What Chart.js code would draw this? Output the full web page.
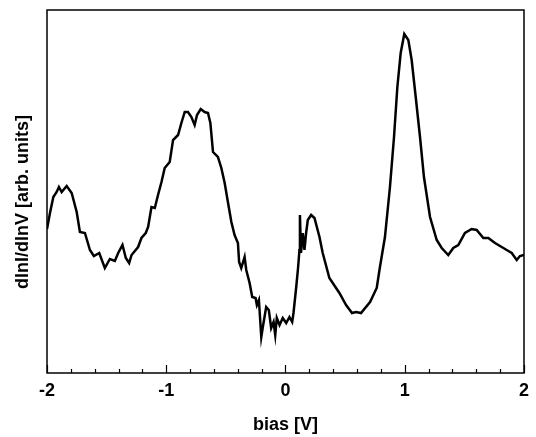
<!DOCTYPE html>
<html>
<head>
<meta charset="utf-8">
<script src="https://cdn.jsdelivr.net/npm/chart.js@4.4.1/dist/chart.umd.min.js"></script>
<style>
  html, body { margin: 0; padding: 0; background: #fff; }
</style>
</head>
<body>
<canvas id="stsChart" width="536" height="437"></canvas>
<script>
// bias [V] and dlnI/dlnV (arb. units)
const bias = [
  -2.000, -1.975, -1.947, -1.919, -1.900, -1.877, -1.835, -1.793, -1.751, -1.724,
  -1.682, -1.640, -1.607, -1.562, -1.515, -1.473, -1.431, -1.403, -1.367, -1.339,
  -1.311, -1.291, -1.236, -1.208, -1.172, -1.152, -1.124, -1.096, -1.069, -1.040,
  -1.013, -0.971, -0.943, -0.901, -0.873, -0.845, -0.818, -0.789, -0.762, -0.742,
  -0.711, -0.678, -0.650, -0.630, -0.608, -0.567, -0.538, -0.510, -0.483, -0.454,
  -0.427, -0.399, -0.389, -0.371, -0.343, -0.329, -0.301, -0.279, -0.251, -0.240,
  -0.223, -0.203, -0.190, -0.162, -0.140, -0.120, -0.100, -0.086, -0.073, -0.050,
  -0.023, 0.006, 0.033, 0.056, 0.067, 0.090, 0.106, 0.117, 0.121, 0.130,
  0.145, 0.159, 0.173, 0.187, 0.215, 0.243, 0.285, 0.312, 0.368, 0.452,
  0.508, 0.558, 0.592, 0.633, 0.709, 0.765, 0.792, 0.834, 0.876, 0.910,
  0.938, 0.966, 0.996, 1.030, 1.058, 1.092, 1.128, 1.161, 1.212, 1.268,
  1.310, 1.365, 1.407, 1.449, 1.505, 1.561, 1.603, 1.659, 1.701, 1.757,
  1.813, 1.855, 1.897, 1.939, 1.966, 2.000
];
const didv = [
  144, 160, 176, 181, 186, 181, 187, 180, 161, 141,
  140, 123, 117, 120, 105, 114, 112, 120, 128, 115,
  110, 118, 126, 135, 140, 146, 166, 165, 178, 191,
  205, 211, 233, 238, 250, 261, 261, 256, 248, 258,
  264, 261, 260, 250, 221, 216, 205, 190, 171, 151,
  138, 130, 111, 105, 116, 103, 90, 76, 75, 68,
  73, 36, 46, 66, 63, 45, 51, 38, 55, 48,
  55, 50, 56, 51, 60, 86, 106, 123, 158, 120,
  140, 123, 140, 153, 158, 155, 136, 120, 95, 80,
  68, 60, 61, 60, 71, 85, 106, 136, 186, 236,
  286, 320, 339, 333, 313, 276, 236, 196, 156, 133,
  125, 118, 125, 128, 140, 144, 143, 135, 135, 130,
  126, 123, 120, 113, 117, 118
];
const xTicks = [-2, -1, 0, 1, 2];
const yTitle = 'dlnI/dlnV [arb. units]';

const points = bias.map((v, i) => ({ x: v, y: didv[i] }));
const font = { family: 'Liberation Sans', size: 18, weight: 'bold' };

// frame box, inward ticks on the bottom axis, y title
const frameTicks = {
    id: 'frameTicks',
    afterDraw(chart) {
        const { ctx, chartArea: a, scales: { x } } = chart;
        ctx.save();
        ctx.strokeStyle = '#000';
        ctx.lineWidth = 1.5;
        ctx.strokeRect(a.left, a.top, a.right - a.left, a.bottom - a.top);
        ctx.lineWidth = 1.2;
        for (let i = -10; i <= 10; i++) {
            const px = Math.round(x.getPixelForValue(i / 5)) + 0.5;
            const len = (i % 5 === 0) ? 8 : 4;
            ctx.beginPath();
            ctx.moveTo(px, a.bottom);
            ctx.lineTo(px, a.bottom - len);
            ctx.stroke();
        }
        ctx.translate(23, 202);
        ctx.rotate(-Math.PI / 2);
        ctx.fillStyle = '#000';
        ctx.font = 'bold 18px "Liberation Sans"';
        ctx.textAlign = 'center';
        ctx.textBaseline = 'middle';
        ctx.fillText(yTitle, 0, 0);
        ctx.restore();
    }
};

const ctx = document.getElementById('stsChart').getContext('2d');
new Chart(ctx, {
    type: 'line',
    data: {
        datasets: [{
            data: points,
            borderColor: '#000',
            borderWidth: 2.5,
            pointRadius: 0,
            tension: 0,
            fill: false
        }]
    },
    options: {
        responsive: false,
        animation: false,
        layout: { padding: { top: 10, right: 12, left: 0, bottom: 0 } },
        plugins: { legend: { display: false }, tooltip: { enabled: false } },
        scales: {
            x: {
                type: 'linear',
                min: -2,
                max: 2,
                afterBuildTicks: (s) => { s.ticks = xTicks.map(v => ({ value: v })); },
                afterFit: (s) => { s.height = 64; },
                grid: { display: false, drawTicks: false },
                border: { display: false },
                ticks: { padding: 7, color: '#000', font: font },
                title: {
                    display: true,
                    text: 'bias [V]',
                    color: '#000',
                    padding: { top: 0, bottom: 1 },
                    font: font
                }
            },
            y: {
                min: 0,
                max: 363,
                afterFit: (s) => { s.width = 47; },
                grid: { display: false, drawTicks: false },
                border: { display: false },
                ticks: { display: false }
            }
        }
    },
    plugins: [frameTicks]
});
</script>
</body>
</html>
